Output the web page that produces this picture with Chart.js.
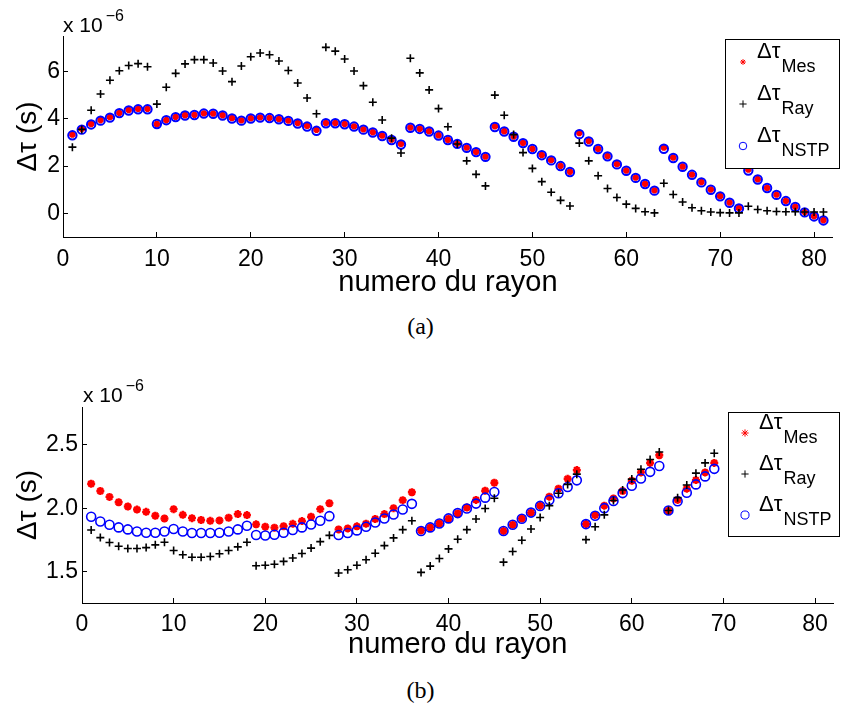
<!DOCTYPE html>
<html>
<head>
<meta charset="utf-8">
<title>Δτ – numero du rayon</title>
<script src="https://cdn.jsdelivr.net/npm/chart.js"></script>
<style>
  html, body { margin: 0; padding: 0; background: #fff; }
  #page { position: relative; width: 841px; height: 713px; background: #fff; overflow: hidden; }
  canvas { position: absolute; left: 0; }
  #chartA { top: 0; }
  #chartB { top: 370px; }
  .caption { position: absolute; left: 0; width: 841px; text-align: center;
             font-family: "Liberation Serif", "DejaVu Serif", serif; font-size: 24px; line-height: 28px; color: #000; }
</style>
</head>
<body>
<div id="page">
  <canvas id="chartA" width="841" height="300"></canvas>
  <div class="caption" style="top:312px">(a)</div>
  <canvas id="chartB" width="841" height="300"></canvas>
  <div class="caption" style="top:676px">(b)</div>
</div>
<script>
// numero du rayon
const raysA = [1,2,3,4,5,6,7,8,9,10,11,12,13,14,15,16,17,18,19,20,21,22,23,24,25,26,27,
  28,29,30,31,32,33,34,35,36,37,38,39,40,41,42,43,44,45,46,47,48,49,50,51,52,53,54,
  55,56,57,58,59,60,61,62,63,64,65,66,67,68,69,70,71,72,73,74,75,76,77,78,79,80,81];
const raysB = [1,2,3,4,5,6,7,8,9,10,11,12,13,14,15,16,17,18,19,20,21,22,23,24,25,26,27,
  28,29,30,31,32,33,34,35,36,37,38,39,40,41,42,43,44,45,46,47,48,49,50,51,52,53,54,
  55,56,57,58,59,60,61,62,63,64,65,66,67,68,69];

// (a) valeurs en 1e-6 s
const mesA = [3.33,3.57,3.78,3.94,4.07,4.25,4.37,4.42,4.42,
  3.77,3.94,4.08,4.15,4.17,4.23,4.22,4.15,4.03,
  3.93,4.02,4.06,4.04,3.99,3.92,3.82,3.70,3.53,
  3.82,3.82,3.78,3.68,3.55,3.43,3.29,3.12,2.94,
  3.63,3.58,3.47,3.30,3.11,2.95,2.78,2.60,2.40,
  3.68,3.47,3.25,2.98,2.73,2.47,2.25,2.01,1.76,
  3.40,3.06,2.73,2.42,2.08,1.81,1.51,1.25,0.97,
  2.78,2.36,1.98,1.64,1.32,1.01,0.73,0.46,0.22,
  1.85,1.44,1.08,0.79,0.53,0.28,0.05,-0.12,-0.29];
const rayA = [2.80,3.55,4.36,5.05,5.63,6.03,6.25,6.33,6.20,
  4.62,5.33,5.92,6.32,6.50,6.50,6.36,6.02,5.57,
  6.23,6.62,6.78,6.71,6.44,6.04,5.51,4.88,4.21,
  7.02,6.86,6.53,6.02,5.40,4.70,3.95,3.18,2.55,
  6.56,5.94,5.22,4.43,3.66,2.93,2.22,1.65,1.16,
  5.00,4.15,3.33,2.57,1.90,1.34,0.89,0.55,0.31,
  2.97,2.22,1.59,1.05,0.67,0.39,0.21,0.07,0.02,
  1.27,0.80,0.48,0.24,0.11,0.06,0.03,0.02,0.02,
  0.30,0.16,0.11,0.08,0.07,0.07,0.06,0.06,0.06];
const nstpA = [3.30,3.54,3.76,3.92,4.05,4.24,4.35,4.40,4.40,
  3.78,3.94,4.07,4.14,4.16,4.22,4.21,4.14,4.01,
  3.92,4.01,4.05,4.03,3.98,3.91,3.80,3.67,3.49,
  3.81,3.81,3.77,3.67,3.54,3.42,3.27,3.10,2.91,
  3.62,3.57,3.46,3.29,3.10,2.94,2.77,2.59,2.39,
  3.65,3.46,3.24,2.97,2.72,2.46,2.24,2.00,1.75,
  3.35,3.04,2.72,2.41,2.07,1.80,1.50,1.24,0.96,
  2.73,2.34,1.97,1.63,1.31,1.00,0.72,0.45,0.21,
  1.81,1.43,1.07,0.78,0.52,0.27,0.04,-0.13,-0.30];

// (b) valeurs en 1e-6 s
const mesB = [2.193,2.136,2.089,2.047,2.013,1.989,1.971,1.940,1.918,
  1.992,1.947,1.921,1.906,1.900,1.903,1.924,1.953,1.945,
  1.872,1.853,1.846,1.857,1.876,1.898,1.932,1.992,2.039,
  1.832,1.840,1.856,1.877,1.914,1.953,2.000,2.063,2.126,
  1.824,1.848,1.879,1.916,1.958,2.005,2.065,2.138,2.201,
  1.819,1.869,1.918,1.965,2.020,2.091,2.154,2.232,2.301,
  1.874,1.945,2.020,2.077,2.136,2.217,2.283,2.358,2.418,
  1.981,2.065,2.154,2.222,2.283,2.358];
const rayB = [1.827,1.767,1.728,1.699,1.681,1.681,1.688,1.710,1.730,
  1.665,1.631,1.612,1.612,1.618,1.639,1.665,1.694,1.730,
  1.545,1.548,1.557,1.579,1.606,1.641,1.684,1.735,1.785,
  1.487,1.513,1.549,1.592,1.644,1.704,1.765,1.830,1.900,
  1.492,1.542,1.602,1.678,1.754,1.830,1.914,1.997,2.078,
  1.573,1.657,1.746,1.835,1.926,2.020,2.118,2.188,2.269,
  1.751,1.853,1.947,2.061,2.144,2.230,2.308,2.385,2.444,
  1.981,2.083,2.183,2.277,2.358,2.434];
const nstpB = [1.932,1.895,1.869,1.848,1.832,1.816,1.806,1.806,1.816,
  1.835,1.816,1.804,1.803,1.804,1.806,1.816,1.832,1.861,
  1.788,1.784,1.790,1.806,1.827,1.848,1.871,1.900,1.937,
  1.788,1.804,1.824,1.853,1.887,1.918,1.950,1.989,2.034,
  1.819,1.848,1.879,1.919,1.961,1.997,2.036,2.083,2.128,
  1.819,1.869,1.916,1.965,2.018,2.065,2.118,2.167,2.220,
  1.874,1.940,2.000,2.057,2.119,2.177,2.235,2.287,2.334,
  1.981,2.055,2.122,2.188,2.251,2.311];

// graduations
const xTicks = [0,10,20,30,40,50,60,70,80];
const yTicksA = [0,2,4,6];
const yTicksB = [1.5,2,2.5];
const seriesNames = ['Mes', 'Ray', 'NSTP'];

const FONT = '"Liberation Sans", Arial, Helvetica, sans-serif';

// exposant "x 10^-6" + légende encadrée avec indices
const extras = {
  id: 'extras',
  afterDraw(chart, args, o) {
    const ctx = chart.ctx;
    const area = chart.chartArea;
    ctx.save();
    ctx.fillStyle = '#000';
    ctx.textAlign = 'left';
    ctx.textBaseline = 'alphabetic';
    ctx.font = '21px ' + FONT;
    const bx = area.left + o.multDx, by = area.top - o.multDy;
    ctx.fillText('x 10', bx, by);
    const w = ctx.measureText('x 10').width;
    ctx.font = '16px ' + FONT;
    ctx.fillText('\u22126', bx + w + 3, by - 11);

    // légende
    const [lx, ly, lw, lh] = o.box;
    ctx.fillStyle = '#fff';
    ctx.fillRect(lx, ly, lw, lh);
    ctx.strokeStyle = '#000';
    ctx.lineWidth = 1;
    ctx.strokeRect(lx + 0.5, ly + 0.5, lw, lh);
    chart.data.datasets.forEach((ds, i) => {
      const my = o.rowY + i * o.rowStep;
      const mx = lx + o.markDx;
      ctx.save();
      ctx.strokeStyle = ds.borderColor;
      ctx.fillStyle = ds.backgroundColor;
      Chart.helpers.drawPoint(ctx, {
        pointStyle: ds.pointStyle, radius: ds.pointRadius * 0.9,
        borderWidth: ds.borderWidth, rotation: 0
      }, mx, my);
      ctx.restore();
      ctx.fillStyle = '#000';
      ctx.font = '22px ' + FONT;
      const tx = mx + 14;
      ctx.fillText('\u0394\u03c4', tx, my - 4);
      const tw = ctx.measureText('\u0394\u03c4').width;
      ctx.font = '18px ' + FONT;
      ctx.fillText(seriesNames[i], tx + tw + 1, my + 10);
    });
    ctx.restore();
  }
};

function makeChart(id, rays, mes, ray, nstp, yTicks, c) {
  const pts = ys => ys.map((v, i) => ({ x: rays[i], y: v }));
  return new Chart(document.getElementById(id), {
    type: 'scatter',
    data: {
      datasets: [
        { label: 'Mes', data: pts(mes), order: 3, pointStyle: 'star',
          pointRadius: c.mesR, borderWidth: c.mesW, borderColor: '#ff0000', backgroundColor: '#ff0000' },
        { label: 'Ray', data: pts(ray), order: 1, pointStyle: 'cross',
          pointRadius: 4, borderWidth: 1.6, borderColor: '#000000', backgroundColor: '#000000' },
        { label: 'NSTP', data: pts(nstp), order: 2, pointStyle: 'circle',
          pointRadius: c.nstpR, borderWidth: c.nstpW, borderColor: '#0000ff', backgroundColor: 'rgba(0,0,0,0)' }
      ]
    },
    options: {
      responsive: false,
      animation: false,
      devicePixelRatio: 1,
      layout: { padding: { top: c.padTop, right: 0, bottom: 0, left: 0 } },
      plugins: {
        legend: { display: false },
        tooltip: { enabled: false },
        extras: c.extras
      },
      scales: {
        x: {
          type: 'linear', min: 0, max: 82,
          afterBuildTicks: s => { s.ticks = xTicks.map(v => ({ value: v })); },
          afterFit: s => { s.height = c.xH; },
          grid: { drawOnChartArea: false, drawTicks: true, tickLength: -5, color: '#000', lineWidth: 1 },
          border: { display: true, color: '#000', width: 1 },
          ticks: { color: '#000', font: { family: FONT, size: 23 }, padding: c.xTickPad, maxRotation: 0, autoSkip: false },
          title: { display: true, text: 'numero du rayon', color: '#000',
                   font: { family: FONT, size: 29 }, padding: { top: 0, bottom: c.xTitlePad } }
        },
        y: {
          type: 'linear', min: c.yMin, max: c.yMax,
          afterBuildTicks: s => { s.ticks = yTicks.map(v => ({ value: v })); },
          afterFit: s => { s.width = c.yW; },
          grid: { drawOnChartArea: false, drawTicks: true, tickLength: -5, color: '#000', lineWidth: 1 },
          border: { display: true, color: '#000', width: 1 },
          ticks: { color: '#000', font: { family: FONT, size: 23 }, padding: c.yTickPad, autoSkip: false },
          title: { display: true, text: '\u0394\u03c4 (s)', color: '#000',
                   font: { family: FONT, size: 28 }, padding: { top: 11, bottom: 0 } }
        }
      }
    },
    plugins: [extras]
  });
}

makeChart('chartA', raysA, mesA, rayA, nstpA, yTicksA, {
  padTop: 36, xH: 63, yW: 63, yMin: -1, yMax: 7.5, yTickPad: 8, xTickPad: 14, xTitlePad: 0,
  mesR: 3.2, mesW: 2.6, nstpR: 4.2, nstpW: 2,
  extras: { multDx: 0, multDy: 4, box: [725, 39, 114, 129], rowY: 62, rowStep: 42, markDx: 18 }
});

makeChart('chartB', raysB, mesB, rayB, nstpB, yTicksB, {
  padTop: 37, xH: 67, yW: 82, yMin: 1.25, yMax: 2.8, yTickPad: 9, xTickPad: 13, xTitlePad: 8,
  mesR: 4, mesW: 2.4, nstpR: 4.5, nstpW: 1.6,
  extras: { multDx: 1, multDy: 5, box: [728, 42, 111, 124], rowY: 63, rowStep: 41, markDx: 17 }
});
</script>
</body>
</html>
